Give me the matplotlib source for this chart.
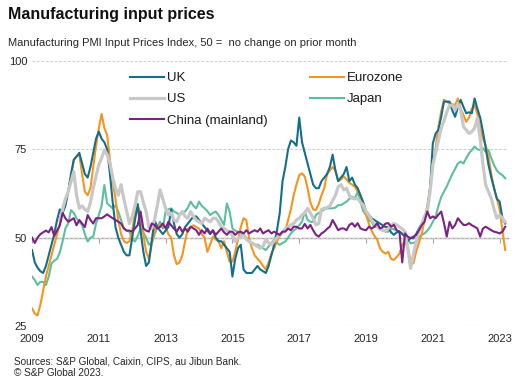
import numpy as np
import matplotlib
matplotlib.use('Agg')
import matplotlib.pyplot as plt

plt.rcParams['font.family'] = ['Liberation Sans', 'DejaVu Sans']

# monthly index readings, Jan 2009 - Mar 2023
uk = [46.5, 43, 41.5, 40.5, 40, 42, 45, 48, 51, 55, 58, 57,
      59, 63, 68, 72, 73, 74, 71, 68, 67, 70, 74, 78,
      80, 78, 77, 75, 68, 60, 53, 50, 48, 46, 45, 45,
      50, 55, 59.5, 52, 46, 42, 43, 49, 55, 53, 52, 51,
      52, 53, 58, 54, 51, 50, 51, 53, 54, 55, 56, 56,
      55, 54, 53, 52, 51, 52, 50, 49, 49, 48, 47, 46,
      39, 44, 47, 48, 41, 40, 40, 40, 41, 42, 41, 40.5,
      40, 42, 45, 48, 52, 57, 66, 70, 75, 77.5, 77, 76,
      84, 77, 74, 71, 68, 65, 64, 64, 66, 67, 68, 70,
      73.5, 69, 66, 67, 68, 70, 66, 67, 65, 64, 62, 60,
      57.5, 56.5, 55.5, 55, 54.5, 54, 53.5, 53, 53, 51.5, 50.8, 51.5,
      51.7, 51, 50.3, 49, 50, 49.8, 51, 52.6, 54, 55.5, 57.4, 64,
      76.7, 79.5, 80.5, 84.2, 88.5, 88.5, 88.5, 86, 84.2, 87, 89, 87,
      85.2, 85.5, 85.2, 89.4, 86.5, 84, 80, 75.3, 70.6, 67, 64, 61,
      60.2, 55.5, 54]

eurozone = [30, 28.5, 28, 31, 35, 39, 42, 45, 48, 51, 54, 58,
            61, 63, 67, 72, 73, 73.5, 68, 63, 62, 64, 70, 76,
            81, 85, 81, 79, 72, 66, 61, 55, 51, 49, 48.5, 49,
            52, 57, 59, 56.5, 51, 46, 44, 48, 52, 53, 53.5, 53.5,
            53, 51, 50, 45, 42.5, 43, 45, 49, 52.5, 53, 53.5, 53,
            52.6, 51, 50, 46, 48, 50.3, 49.5, 49, 47, 49, 46, 43.2,
            43.2, 46, 49.4, 53, 55.5, 55, 49.8, 47, 45, 44, 43.2, 42,
            41, 43, 45.5, 47, 49, 50.5, 51.5, 52, 55, 58, 62, 65,
            67.7, 68.2, 67.3, 64, 60, 58, 57.8, 59.5, 62, 64, 68, 69,
            70, 69, 66, 66.5, 67.3, 66.5, 65.5, 65, 64.4, 63, 62, 59,
            56.5, 54, 52, 50.5, 49.5, 47, 46, 45.5, 46, 44, 43.7, 44.5,
            45.5, 48, 49, 47, 43.5, 42.7, 46, 48.5, 51, 55, 59, 64,
            70.6, 75.3, 81.4, 85.7, 89, 88.5, 88, 87.8, 87.5, 89.4, 86.5, 84.7,
            82.8, 84, 86.5, 87.5, 85, 81, 78, 76.2, 73, 68, 64, 61,
            58, 52, 46.5]

# US series starts late 2009
us = [None] * 10 + [55, 58,
      61, 63, 65.8, 68.7, 62, 58.3, 59, 58, 57.4, 60, 64, 67.5,
      70.6, 72.5, 74.8, 73.5, 71, 67, 64, 62, 65, 61, 57.5, 54,
      56, 59, 63, 63, 60, 57.4, 53, 52.6, 55, 59, 63.5, 61,
      58.3, 56.4, 57, 55, 54.5, 56.4, 57.4, 56, 55.5, 57.4, 56, 55,
      54.5, 54, 55.5, 55, 54.5, 55.5, 55.5, 54.5, 53, 52.6, 52, 51.7,
      50.5, 48.9, 49.8, 50.3, 50.8, 49.5, 48.9, 48.5, 48, 47.5, 47, 47.5,
      49.5, 48.5, 48, 49, 50, 51, 51.5, 52.6, 53, 53.6, 54, 55,
      55.5, 56.4, 57, 58.3, 57, 55.5, 53.6, 54, 58, 58.3, 58.5, 59,
      60.5, 62, 64.4, 65, 63.5, 64, 62, 61.1, 61, 61.1, 60, 59.2,
      57.5, 56.4, 55, 54, 53.1, 52.5, 52, 52, 52.6, 53.5, 54, 53.6,
      53, 52.5, 51.7, 47, 41.3, 45, 48.9, 52, 53.6, 56, 57.4, 63,
      70.6, 74, 77.5, 81, 83, 85.5, 87.5, 87.5, 86.1, 88, 86, 81.4,
      80.5, 79.5, 80, 81, 83.8, 78.1, 70.6, 64.9, 63, 61.1, 58, 55.5,
      56.4, 55.5, 54.5]

japan = [39, 38, 36.6, 37.5, 37.5, 36.6, 39, 42.7, 43.5, 44, 45.8, 49,
         52.6, 54, 57.8, 57, 55.5, 54.5, 53.6, 51, 48.9, 50, 50.3, 54,
         56.4, 59, 64.9, 59.7, 59, 58.3, 59.2, 57.4, 55, 52.6, 52, 51.7,
         49.5, 48.9, 50.5, 52.6, 51.5, 50, 48, 48.5, 50.8, 53, 54.5, 52.6,
         57.4, 58, 58.3, 57.4, 57, 56.4, 57, 57.4, 58.5, 60.2, 59, 58.3,
         60.2, 59, 58.3, 57.5, 56.4, 57, 57.4, 56.4, 55, 53.6, 59.7, 57.4,
         52.6, 52, 51.7, 51.2, 50.8, 50, 48.9, 48.5, 48, 48, 47.5, 47,
         46.5, 47.5, 48.5, 49.4, 48.5, 48, 48.5, 48.9, 50, 51.2, 52, 52.6,
         53.5, 54.5, 57.4, 55, 54.5, 54.5, 56.4, 57, 57.4, 58, 58.3, 58.3,
         58.3, 58.5, 59.2, 59.2, 59.7, 60.2, 61, 61.6, 61.1, 63, 60.2, 57.5,
         56.4, 55, 54.5, 53.1, 53, 52.6, 52.3, 51.7, 51.7, 52.6, 52.4, 52,
         51.7, 51.2, 50.5, 49.5, 48.4, 48.5, 48.9, 50, 50.8, 51.2, 52, 53,
         54.5, 56, 59, 61.5, 63, 64.5, 66.3, 68, 69.5, 71, 71.5, 71,
         72.5, 73.9, 74.8, 75.8, 75, 74.8, 75.3, 74.3, 74.8, 72.5, 70.5, 69,
         68.2, 67.7, 66.8]

china = [50, 48.5, 50, 51, 51.5, 52, 51.5, 53, 50.5, 52, 53.5, 57,
         55.5, 54.5, 55, 55.5, 53.5, 55, 54, 53, 56.4, 55, 54, 55.5,
         55.5, 55.5, 56, 56.6, 56, 55.5, 55, 54.5, 54, 52.6, 52, 52,
         51.7, 52.6, 53.6, 57.4, 52.6, 52, 51.7, 54, 53.6, 52.6, 53, 54,
         52.6, 54.5, 53.5, 52.6, 51.7, 53.1, 51.7, 52.6, 51.7, 53.1, 52.6, 52.1,
         50.8, 52.1, 51.2, 52.6, 51.2, 52.1, 50.8, 51.7, 52.6, 51.5, 50.8, 51.7,
         51.7, 50.8, 51.5, 51.7, 51.2, 52.1, 51.2, 51.7, 52.1, 51.7, 52.6, 51.2,
         51.7, 52.1, 51.2, 51.7, 51.2, 50.8, 51.7, 51.7, 52.6, 52.1, 53.1, 53.1,
         52.6, 52.6, 53.9, 52.6, 53.6, 52.1, 50.8, 50.3, 51.2, 51.7, 52.5, 53.1,
         55, 53.6, 52.1, 52.6, 52.6, 52.1, 53.6, 54.1, 53.1, 54.1, 52.6, 52.3,
         52.1, 53.1, 52.6, 53.1, 54.1, 52.6, 53, 54, 54.1, 53.1, 53.6, 52.1,
         51.7, 43, 51.2, 50.3, 49.8, 50.3, 50.8, 52.1, 53.5, 54.5, 57.4, 55.5,
         56, 55.5, 56.5, 57.4, 54.1, 50.3, 54.5, 52.6, 53.6, 55.5, 54.5, 53.6,
         53.6, 54.1, 53.5, 53.1, 52.6, 50.3, 52.6, 53.1, 52.6, 52.1, 51.7, 51.5,
         51.2, 51.7, 53.1]

start_year = 2009
tick_years = [2009, 2011, 2013, 2015, 2017, 2019, 2021, 2023]
y_ticks = [25, 50, 75, 100]

months = np.arange(len(uk))

fig = plt.figure(figsize=(5.32, 3.9), dpi=100)
ax = fig.add_axes([32 / 532, 64 / 390, 476 / 532, 265 / 390])

# draw order: japan, eurozone, uk, us on top, china last
l_jp, = ax.plot(months, japan, color='#5cbf9f', lw=1.5, label='Japan')
l_ez, = ax.plot(months, eurozone, color='#f7941d', lw=1.5, label='Eurozone')
l_uk, = ax.plot(months, uk, color='#136f8a', lw=1.5, label='UK')
l_us, = ax.plot(months, np.array(us, dtype=float), color='#c8c8c8', lw=2.3, label='US')
l_cn, = ax.plot(months, china, color='#7b2382', lw=1.5, label='China (mainland)')

ax.set_xlim(0, len(uk))
ax.set_ylim(25, 100)
ax.set_yticks(y_ticks)
ax.set_xticks([(y - start_year) * 12 for y in tick_years])
ax.set_xticklabels([str(y) for y in tick_years])
ax.tick_params(axis='both', length=0, labelsize=8, colors='#262626')
ax.tick_params(axis='x', pad=5.5)
ax.tick_params(axis='y', pad=3.5)
for s in ax.spines.values():
    s.set_visible(False)
ax.set_axisbelow(True)
ax.grid(axis='y', ls=(0, (2.5, 1.5)), color='#cfcfcf', lw=0.8)

# solid 50 line with year ticks
sec = ax.secondary_xaxis(1 / 3)
sec.set_xticks([(y - start_year) * 12 for y in tick_years])
sec.tick_params(length=3.5, color='#a6a6a6', width=0.8, labelbottom=False)
sec.spines['bottom'].set_color('#a6a6a6')
sec.spines['bottom'].set_linewidth(1.0)

leg = ax.legend(handles=[l_uk, l_us, l_cn, l_ez, l_jp], ncol=2, frameon=False,
                loc='upper left', bbox_to_anchor=(130 / 532, 1 - 72 / 390),
                bbox_transform=fig.transFigure, fontsize=9.5,
                handlelength=2.6, handletextpad=0.2, columnspacing=3.2,
                labelspacing=0.68, borderpad=0, borderaxespad=0)
for t in leg.get_texts():
    t.set_color('#1a1a1a')

fig.text(8 / 532, 1 - 18.5 / 390, 'Manufacturing input prices', fontsize=11.5,
         fontweight='bold', va='baseline', color='#111111')
fig.text(8 / 532, 1 - 46.5 / 390,
         'Manufacturing PMI Input Prices Index, 50 =  no change on prior month',
         fontsize=8, va='baseline', color='#262626')
fig.text(14 / 532, 1 - 364 / 390, 'Sources: S&P Global, Caixin, CIPS, au Jibun Bank.',
         fontsize=7.2, va='baseline', color='#262626')
fig.text(14 / 532, 1 - 375.5 / 390, '\u00a9 S&P Global 2023.',
         fontsize=7.2, va='baseline', color='#262626')

fig.savefig('out.png', dpi=100)
